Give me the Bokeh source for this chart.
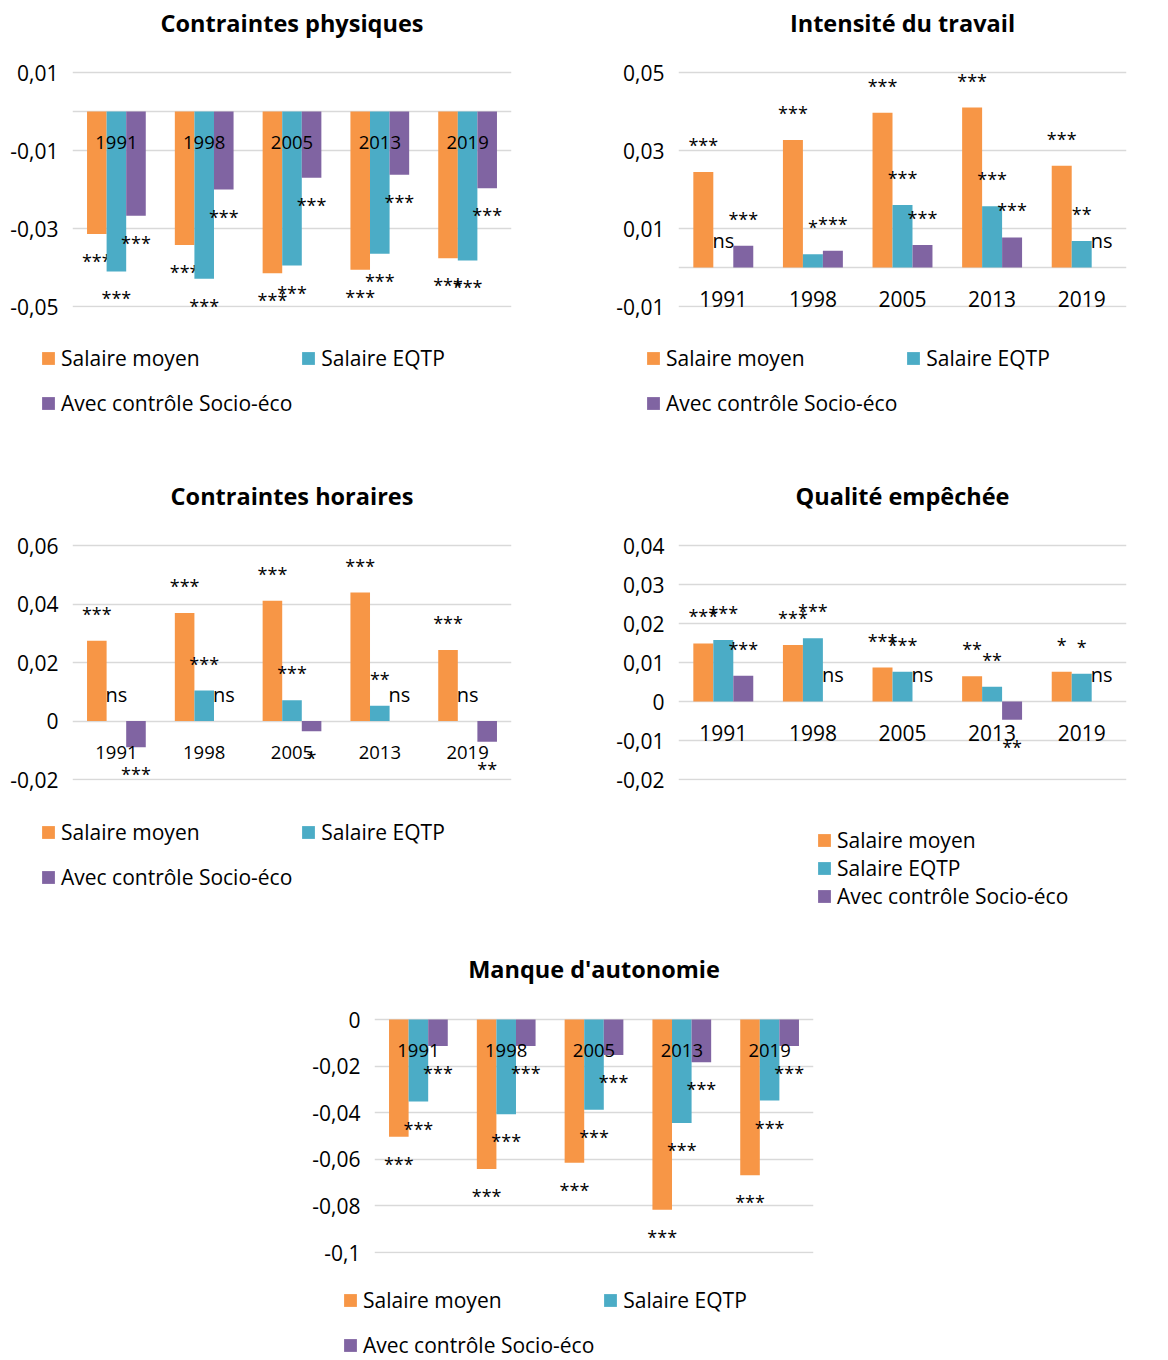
from bokeh.plotting import figure
from bokeh.models import ColumnDataSource, FixedTicker, Legend, LegendItem, Title, Range1d
from bokeh.transform import dodge
from bokeh.layouts import column, row
from bokeh.core.properties import value
from bokeh.embed import file_html
from bokeh.resources import INLINE

FONT = "Open Sans"

years = ["1991", "1998", "2005", "2013", "2019"]
series_names = ["Salaire moyen", "Salaire EQTP", "Avec contrôle Socio-éco"]
colors = ["#F79646", "#4BACC6", "#8064A2"]

# Contraintes physiques
phys_moyen = [-0.0314, -0.0342, -0.0415, -0.0406, -0.0376]
phys_eqtp = [-0.0410, -0.0429, -0.0395, -0.0365, -0.0382]
phys_socio = [-0.0267, -0.0200, -0.0170, -0.0162, -0.0197]
phys_lab_moyen = ["***", "***", "***", "***", "***"]
phys_lab_eqtp = ["***", "***", "***", "***", "***"]
phys_lab_socio = ["***", "***", "***", "***", "***"]
phys_ticks = [0.01, -0.01, -0.03, -0.05]
phys_tick_labels = ["0,01", "-0,01", "-0,03", "-0,05"]

# Intensité du travail
int_moyen = [0.0245, 0.0327, 0.0397, 0.0410, 0.0261]
int_eqtp = [0.0, 0.0034, 0.0160, 0.0157, 0.0068]
int_socio = [0.0056, 0.0043, 0.0058, 0.0077, 0.0]
int_lab_moyen = ["***", "***", "***", "***", "***"]
int_lab_eqtp = ["ns", "*", "***", "***", "**"]
int_lab_socio = ["***", "***", "***", "***", "ns"]
int_ticks = [0.05, 0.03, 0.01, -0.01]
int_tick_labels = ["0,05", "0,03", "0,01", "-0,01"]

# Contraintes horaires
hor_moyen = [0.0274, 0.0369, 0.0411, 0.0439, 0.0243]
hor_eqtp = [0.0, 0.0104, 0.0071, 0.0052, 0.0]
hor_socio = [-0.0090, 0.0, -0.0035, 0.0, -0.0071]
hor_lab_moyen = ["***", "***", "***", "***", "***"]
hor_lab_eqtp = ["ns", "***", "***", "**", "ns"]
hor_lab_socio = ["***", "ns", "*", "ns", "**"]
hor_ticks = [0.06, 0.04, 0.02, 0.0, -0.02]
hor_tick_labels = ["0,06", "0,04", "0,02", "0", "-0,02"]

# Qualité empêchée
qual_moyen = [0.0149, 0.0145, 0.0087, 0.0065, 0.0076]
qual_eqtp = [0.0158, 0.0162, 0.0076, 0.0038, 0.0071]
qual_socio = [0.0066, 0.0, 0.0, -0.0047, 0.0]
qual_lab_moyen = ["***", "***", "***", "**", "*"]
qual_lab_eqtp = ["***", "***", "***", "**", "*"]
qual_lab_socio = ["***", "ns", "ns", "**", "ns"]
qual_ticks = [0.04, 0.03, 0.02, 0.01, 0.0, -0.01, -0.02]
qual_tick_labels = ["0,04", "0,03", "0,02", "0,01", "0", "-0,01", "-0,02"]

# Manque d'autonomie
aut_moyen = [-0.0503, -0.0642, -0.0615, -0.0816, -0.0668]
aut_eqtp = [-0.0352, -0.0407, -0.0387, -0.0444, -0.0348]
aut_socio = [-0.0114, -0.0114, -0.0152, -0.0183, -0.0114]
aut_lab_moyen = ["***", "***", "***", "***", "***"]
aut_lab_eqtp = ["***", "***", "***", "***", "***"]
aut_lab_socio = ["***", "***", "***", "***", "***"]
aut_ticks = [0.0, -0.02, -0.04, -0.06, -0.08, -0.1]
aut_tick_labels = ["0", "-0,02", "-0,04", "-0,06", "-0,08", "-0,1"]

BAR_W = 0.223
OFFSETS = [-BAR_W, 0.0, BAR_W]
FIG_H = 320
TOP_BORDER = 40
BOTTOM_BORDER = 13


def no_align(fig):
    try:
        fig.frame_align = False
    except Exception:
        pass


def make_chart(title, vals, labs, y_lim, ticks, tick_labels, width,
               left, right, extra_top, year_size):
    # plot area: blank strip of extra_top px above the highest gridline,
    # 1 px below the lowest one
    frame_h = FIG_H - TOP_BORDER - BOTTOM_BORDER
    data_px = frame_h - extra_top - 1
    span = y_lim[1] - y_lim[0]
    k = span / data_px
    p = figure(x_range=years,
               y_range=Range1d(y_lim[0] - k, y_lim[1] + k * extra_top),
               width=width, height=FIG_H,
               output_backend="svg", toolbar_location=None,
               x_axis_location=None, min_border_left=left,
               min_border_right=right, min_border_top=TOP_BORDER,
               min_border_bottom=BOTTOM_BORDER)
    no_align(p)
    p.title = Title(text=title, align="center", vertical_align="bottom",
                    text_font=FONT, text_font_size="23.5px",
                    text_font_style="bold", text_color="#000000", standoff=4)
    p.outline_line_color = None
    p.xgrid.visible = False
    grid_vals = sorted(set(ticks) | {0.0, y_lim[0], y_lim[1]})
    p.ygrid.ticker = FixedTicker(ticks=grid_vals)
    p.ygrid.grid_line_color = "#D9D9D9"
    p.ygrid.grid_line_width = 1.4
    ax = p.yaxis[0]
    ax.ticker = FixedTicker(ticks=ticks)
    ax.major_label_overrides = {t: l for t, l in zip(ticks, tick_labels)}
    ax.axis_line_color = None
    ax.major_tick_line_color = None
    ax.minor_tick_line_color = None
    ax.major_tick_in = 0
    ax.major_tick_out = 0
    ax.major_label_standoff = 14
    ax.major_label_text_font = FONT
    ax.major_label_text_font_size = "21px"
    ax.major_label_text_color = "#000000"

    sources = []
    for v, lab, off, col in zip(vals, labs, OFFSETS, colors):
        src = ColumnDataSource(dict(
            year=years, val=v, lab=lab,
            yoff=[-27 if x >= 0 else 27 for x in v],
            fsize=["20px" if t == "ns" else "18px" for t in lab]))
        sources.append(src)
        p.vbar(x=dodge("year", off, range=p.x_range), top="val", bottom=0,
               width=BAR_W, source=src, fill_color=col, line_color=None)
        p.text(x=dodge("year", off, range=p.x_range), y="val", text="lab",
               source=src, y_offset="yoff", text_align="center",
               text_baseline="middle", text_font=value(FONT),
               text_font_size="fsize", text_color="#000000")
    # category labels next to the horizontal axis (value 0)
    p.text(x=years, y=[0.0] * len(years), text=years, y_offset=31,
           text_align="center", text_baseline="middle", text_font=value(FONT),
           text_font_size=year_size, text_color="#000000")
    return p, sources


def make_legend(sources, width, height, loc, spacing, label_height, ncols):
    q = figure(width=width, height=height, x_range=years, y_range=(0, 1),
               output_backend="svg", toolbar_location=None,
               x_axis_location=None, y_axis_location=None,
               min_border_left=0, min_border_right=0, min_border_top=0,
               min_border_bottom=0)
    no_align(q)
    q.outline_line_color = None
    q.xgrid.visible = False
    q.ygrid.visible = False
    items = []
    for name, col, src, off in zip(series_names, colors, sources, OFFSETS):
        # legend handle only: same series, hidden in this strip
        r = q.vbar(x=dodge("year", off, range=q.x_range), top="val", bottom=0,
                   width=BAR_W, source=src, fill_color=col, line_color=None)
        r.visible = False
        items.append(LegendItem(label=name, renderers=[r]))
    lg = Legend(items=items, location=loc, padding=0, margin=0,
                border_line_color=None, background_fill_alpha=0,
                glyph_width=16, glyph_height=16, label_standoff=5,
                label_text_font=FONT, label_text_font_size="21px",
                label_text_color="#000000", spacing=spacing,
                label_height=label_height)
    if ncols:
        lg.orientation = "horizontal"
        lg.ncols = ncols
    else:
        lg.orientation = "vertical"
    q.add_layout(lg)
    return q


f1, s1 = make_chart("Contraintes physiques", [phys_moyen, phys_eqtp, phys_socio],
                    [phys_lab_moyen, phys_lab_eqtp, phys_lab_socio],
                    (-0.05, 0.01), phys_ticks, phys_tick_labels, 597, 72, 86,
                    32, "18.5px")
l1 = make_legend(s1, 597, 153, (40, 52), 8, 37, 2)
f2, s2 = make_chart("Intensité du travail", [int_moyen, int_eqtp, int_socio],
                    [int_lab_moyen, int_lab_eqtp, int_lab_socio],
                    (-0.01, 0.05), int_ticks, int_tick_labels, 571, 81, 42,
                    32, "21px")
l2 = make_legend(s2, 571, 153, (48, 52), 8, 37, 2)
f3, s3 = make_chart("Contraintes horaires", [hor_moyen, hor_eqtp, hor_socio],
                    [hor_lab_moyen, hor_lab_eqtp, hor_lab_socio],
                    (-0.02, 0.06), hor_ticks, hor_tick_labels, 597, 72, 86,
                    32, "18.5px")
l3 = make_legend(s3, 597, 153, (40, 51), 8, 37, 2)
f4, s4 = make_chart("Qualité empêchée", [qual_moyen, qual_eqtp, qual_socio],
                    [qual_lab_moyen, qual_lab_eqtp, qual_lab_socio],
                    (-0.02, 0.04), qual_ticks, qual_tick_labels, 571, 81, 42,
                    32, "21px")
l4 = make_legend(s4, 571, 153, (219, 36), -2, 21, None)
f5, s5 = make_chart("Manque d'autonomie", [aut_moyen, aut_eqtp, aut_socio],
                    [aut_lab_moyen, aut_lab_eqtp, aut_lab_socio],
                    (-0.1, 0.0), aut_ticks, aut_tick_labels, 1168, 374, 355,
                    33, "18.5px")
l5 = make_legend(s5, 1168, 94, (342, -3), 8, 37, 2)

layout = column(row(column(f1, l1), column(f2, l2)),
                row(column(f3, l3), column(f4, l4)),
                column(f5, l5))
open("out.html", "w").write(file_html(layout, INLINE))
